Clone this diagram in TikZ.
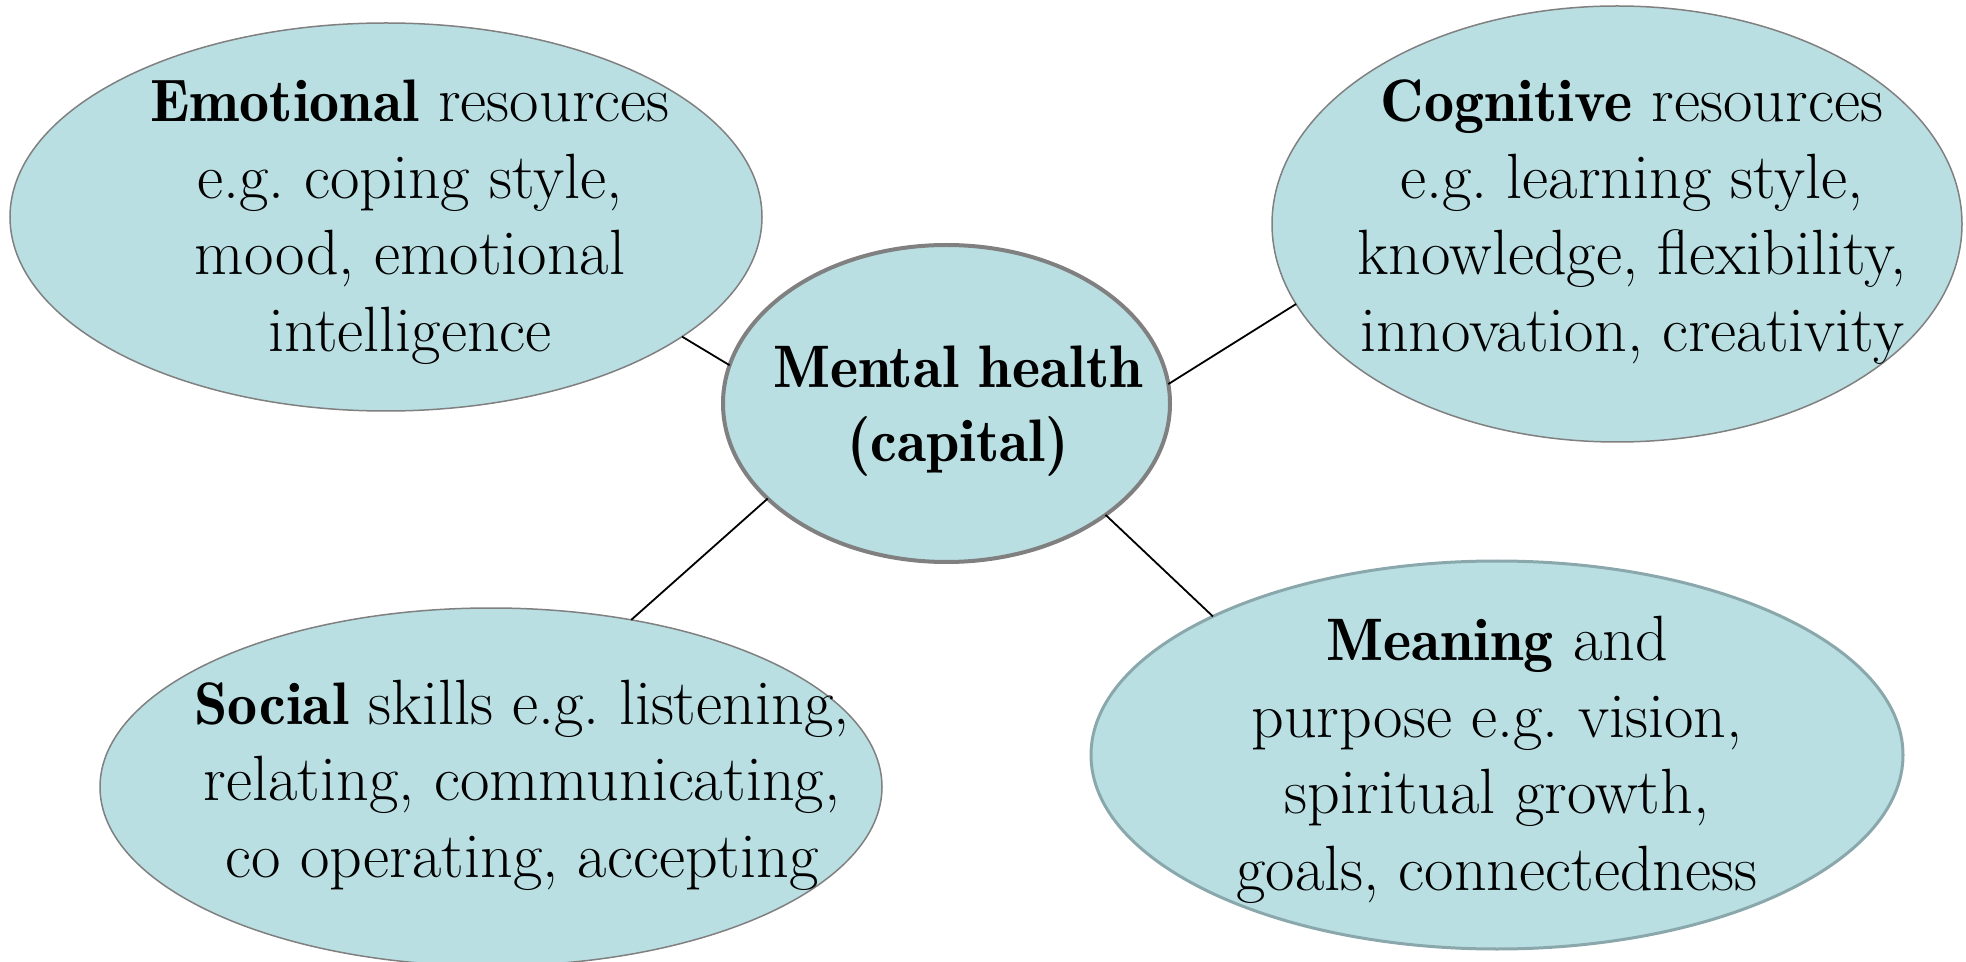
\documentclass[tikz,border=0pt]{standalone}
\usetikzlibrary{shapes.geometric}
\definecolor{bubble}{RGB}{185,223,227}
\definecolor{rimgray}{RGB}{128,128,128}
\definecolor{rimteal}{RGB}{138,168,172}
\newcommand{\hb}[1]{{\fontsize{30}{38.25}\fontseries{b}\selectfont #1}}
\tikzset{
  bub/.style={ellipse, fill=bubble, draw=rimgray, line width=0.75pt, inner sep=0pt, outer sep=0pt},
  txt/.style={align=center, inner sep=0pt, font=\fontsize{32}{38.25}\selectfont\frenchspacing},
  link/.style={draw=black, line width=0.9pt}
}
\begin{document}
\begin{tikzpicture}[x=0.5pt,y=-0.5pt]
\useasboundingbox (0,0) rectangle (1966,962);
\node[bub, minimum width=376pt, minimum height=194pt] (emo) at (386,217) {};
\node[bub, minimum width=345pt, minimum height=218pt] (cog) at (1617,224) {};
\node[bub, minimum width=391pt, minimum height=179pt] (soc) at (491,787) {};
\node[bub, draw=rimteal, line width=1.5pt, minimum width=406pt, minimum height=194pt] (mea) at (1497,755) {};
\node[bub, line width=2pt, minimum width=223.5pt, minimum height=158.5pt] (mh) at (946.5,403.5) {};

\draw[link] (emo.-22.6) -- (mh.170.6);
\draw[link] (mh.5.5) -- (cog.194.9);
\draw[link] (mh.208.6) -- (soc.50.1);
\draw[link] (mh.-35.2) -- (mea.154.6);

\node[txt] (emoT) at (410,222) {\hb{Emotional} resources\\e.g. coping style,\\mood, emotional\\intelligence};
\node[txt] (cogT) at (1632,222) {\hb{Cognitive} resources\\e.g. learning style,\\knowledge, flexibility,\\innovation, creativity};
\node[txt, font=\fontsize{30}{37}\fontseries{b}\selectfont] (mhT) at (958,411) {Mental health\\(capital)};
\node[txt] (socT) at (522,785) {\hb{Social} skills e.g. listening,\\relating, communicating,\\co operating, accepting};
\node[txt] (meaT) at (1497,760) {\hb{Meaning} and\\purpose e.g. vision,\\spiritual growth,\\goals, connectedness};
\end{tikzpicture}
\end{document}
